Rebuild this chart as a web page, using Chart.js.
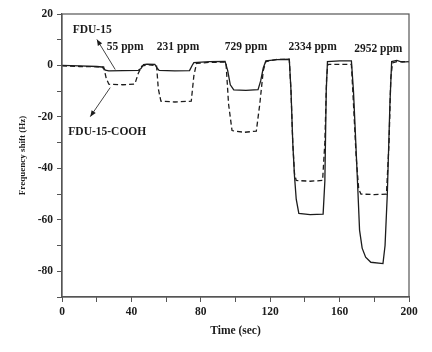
<!DOCTYPE html>
<html>
<head>
<meta charset="utf-8">
<script src="https://cdn.jsdelivr.net/npm/chart.js@4"></script>
<style>
  html, body { margin: 0; padding: 0; background: #fff; }
  #wrap { width: 432px; height: 352px; }
</style>
</head>
<body>
<div id="wrap"><canvas id="qcmChart" width="432" height="352"></canvas></div>
<script>
// FDU-15 (solid line): time in sec, frequency shift in Hz
const fduTime  = [0, 10, 20, 23, 25, 27, 35, 44, 45.5, 47, 49, 53.5, 55, 56, 65, 73.5, 75, 76, 85, 94, 95.5, 97, 99, 106, 113, 114.5, 116, 117.5, 124, 131, 132, 133, 134, 135, 136.5, 143, 150.5, 151.5, 152.3, 153, 160, 166.8, 168, 169, 170.5, 171.5, 173, 175, 178, 185, 186.2, 187.5, 189, 190, 193, 196, 200];
const fduShift = [0, -0.2, -0.4, -0.6, -1.8, -2.1, -2.0, -1.9, -1.2, 0.3, 0.5, 0.4, -1.2, -1.9, -2.1, -2.0, 0, 1.1, 1.5, 1.6, -2, -7.5, -9.5, -9.7, -9.4, -6, -1, 1.8, 2.3, 2.4, -10, -30, -43, -52, -57.5, -58, -57.8, -45, -10, 1.5, 1.8, 1.8, -10, -25, -48, -64, -71, -74.5, -76.5, -77, -70, -50, -15, 1.5, 2, 1.3, 1.5];

// FDU-15-COOH (dashed line)
const coohTime  = [0, 10, 20, 24, 25.5, 27, 35, 42, 44, 46, 50, 54.5, 55.5, 57, 65, 74.5, 76, 77.5, 85, 94.5, 96, 98, 105, 112, 114, 116, 117.5, 124, 131, 132, 133, 134, 135, 143, 150.2, 151.5, 152.5, 153.2, 160, 166.8, 168, 169.5, 171, 172.3, 180, 187, 188.5, 189.5, 190.5, 193, 200];
const coohShift = [-0.2, -0.4, -0.5, -0.6, -5, -7.3, -7.5, -7.2, -3, -0.2, 0.2, 0, -9, -13.9, -14.2, -13.9, -4, 0.8, 1.2, 1.3, -15, -25.3, -26, -25.5, -15, -2, 1.5, 2.4, 2.4, -10, -30, -42, -44.7, -45, -44.7, -30, -5, 0.4, 0.4, 0.4, -15, -35, -48, -50, -50.2, -50, -30, -5, 1, 1.5, 1.5];

// concentration labels and their positions (data units)
const concLabels = ['55 ppm', '231 ppm', '729 ppm', '2334 ppm', '2952 ppm'];
const concX = [36.4, 66.9, 106.1, 144.5, 182.3];
const concY = [7.2, 7.2, 7.2, 7.2, 6.2];

// series labels with arrows: [label x, label y, arrow start x, start y, head x, head y]
const seriesNotes = [
  { text: 'FDU-15', at: [17.4, 13.6], from: [30.7, -1.6], to: [20.1, 10.1] },
  { text: 'FDU-15-COOH', at: [26.1, -25.9], from: [27.8, -8.6], to: [16.3, -19.9] }
];

const ink = '#1c1c1c';
const axisInk = '#555';
const serif = "'Liberation Serif', 'Times New Roman', serif";

function toPoints(xs, ys) {
  return xs.map((x, i) => ({ x: x, y: ys[i] }));
}

// cadre complet autour de la zone de tracé
const boxPlugin = {
  id: 'box',
  afterDatasetsDraw(chart) {
    const a = chart.chartArea;
    const c = chart.ctx;
    c.save();
    c.strokeStyle = axisInk;
    c.lineWidth = 1.2;
    c.strokeRect(a.left, a.top, a.right - a.left, a.bottom - a.top);
    c.restore();
  }
};

function arrow(c, x1, y1, x2, y2) {
  c.beginPath();
  c.moveTo(x1, y1);
  c.lineTo(x2, y2);
  c.stroke();
  const ang = Math.atan2(y2 - y1, x2 - x1);
  const len = 6, w = 2.5;
  c.beginPath();
  c.moveTo(x2, y2);
  c.lineTo(x2 - len * Math.cos(ang) + w * Math.sin(ang), y2 - len * Math.sin(ang) - w * Math.cos(ang));
  c.lineTo(x2 - len * Math.cos(ang) - w * Math.sin(ang), y2 - len * Math.sin(ang) + w * Math.cos(ang));
  c.closePath();
  c.fill();
}

const notesPlugin = {
  id: 'notes',
  afterDraw(chart) {
    const xs = chart.scales.x, ys = chart.scales.y;
    const c = chart.ctx;
    c.save();
    c.fillStyle = ink;
    c.strokeStyle = '#444';
    c.lineWidth = 1;
    c.font = 'bold 11.5px ' + serif;
    c.textAlign = 'center';
    c.textBaseline = 'middle';
    concLabels.forEach((t, i) => {
      c.fillText(t, xs.getPixelForValue(concX[i]), ys.getPixelForValue(concY[i]));
    });
    seriesNotes.forEach(n => {
      c.fillText(n.text, xs.getPixelForValue(n.at[0]), ys.getPixelForValue(n.at[1]));
      arrow(c,
        xs.getPixelForValue(n.from[0]), ys.getPixelForValue(n.from[1]),
        xs.getPixelForValue(n.to[0]), ys.getPixelForValue(n.to[1]));
    });
    c.restore();
  }
};

const ctx = document.getElementById('qcmChart').getContext('2d');
const qcmChart = new Chart(ctx, {
  type: 'line',
  data: {
    datasets: [{
      label: 'FDU-15',
      data: toPoints(fduTime, fduShift),
      borderColor: ink,
      borderWidth: 1.3,
      pointRadius: 0,
      fill: false
    }, {
      label: 'FDU-15-COOH',
      data: toPoints(coohTime, coohShift),
      borderColor: ink,
      borderWidth: 1.3,
      borderDash: [5, 3],
      pointRadius: 0,
      fill: false
    }]
  },
  options: {
    responsive: false,
    animation: false,
    layout: { padding: { top: 14, right: 23, left: 0, bottom: 0 } },
    plugins: { legend: { display: false }, tooltip: { enabled: false } },
    scales: {
      x: {
        type: 'linear',
        min: 0,
        max: 200,
        afterFit: s => { s.height = 55; },
        border: { display: true, color: axisInk, width: 1.2 },
        grid: { drawOnChartArea: false, drawTicks: true, tickLength: 5, tickColor: axisInk },
        ticks: {
          stepSize: 20,
          autoSkip: false,
          maxRotation: 0,
          padding: 3,
          color: ink,
          font: { family: serif, size: 11.5, weight: 'bold' },
          callback: v => (v % 40 === 0 ? v : '')
        },
        title: {
          display: true,
          text: 'Time (sec)',
          color: ink,
          padding: { top: 0, bottom: 14 },
          font: { family: serif, size: 11.5, weight: 'bold' }
        }
      },
      y: {
        min: -90,
        max: 20,
        afterFit: s => { s.width = 62; },
        border: { display: true, color: axisInk, width: 1.2 },
        grid: { drawOnChartArea: false, drawTicks: true, tickLength: 5, tickColor: axisInk },
        ticks: {
          stepSize: 10,
          autoSkip: false,
          padding: 4,
          color: ink,
          font: { family: serif, size: 11.5, weight: 'bold' },
          callback: v => (v % 20 === 0 ? v : '')
        },
        title: {
          display: true,
          text: 'Frequency shift (Hz)',
          color: ink,
          padding: { top: 17, bottom: 0 },
          font: { family: serif, size: 9, weight: 'bold' }
        }
      }
    }
  },
  plugins: [boxPlugin, notesPlugin]
});
</script>
</body>
</html>
